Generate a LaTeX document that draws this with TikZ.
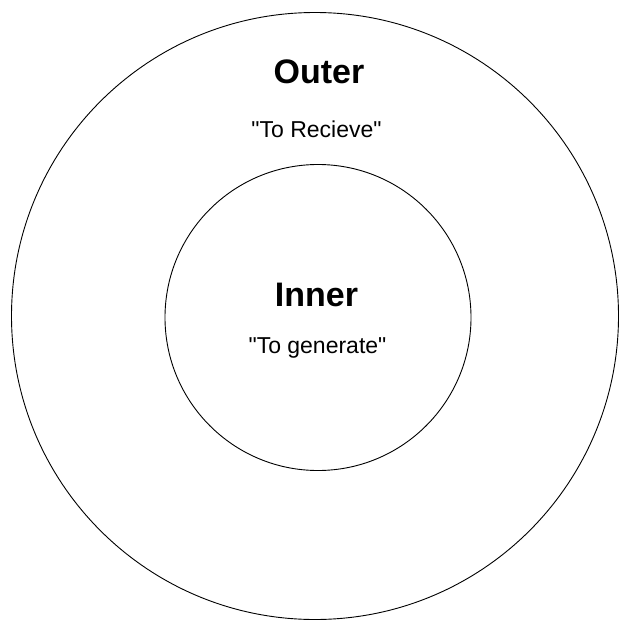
\documentclass[tikz,border=0pt]{standalone}
\usepackage{fontspec}
\newfontfamily\ringfont{Liberation Sans}
\usetikzlibrary{positioning}

\begin{document}
\begin{tikzpicture}[x=1pt,y=-1pt,
  ring/.style={circle,draw,line width=.9pt,inner sep=0pt},
  ringtitle/.style={anchor=base,inner sep=0pt,font=\ringfont\fontsize{34}{36}\selectfont\bfseries},
  ringsub/.style={anchor=base,inner sep=0pt,font=\ringfont\fontsize{23}{26}\selectfont}]
\useasboundingbox (0,0) rectangle (619,621);
%% rings
\node[ring,minimum size=607pt] (outer) at (315,316) {};
\node[ring,minimum size=306pt] (inner) at (318,317.5) {};
%% outer labels
\node[ringtitle] (outertitle) at (319,83) {Outer};
\node[ringsub] (outersub) at (316.5,137) {"To Recieve"};
%% inner labels
\node[ringtitle] (innertitle) at (316.5,306) {Inner};
\node[ringsub] (innersub) at (317.5,353) {"To generate"};
\end{tikzpicture}
\end{document}
